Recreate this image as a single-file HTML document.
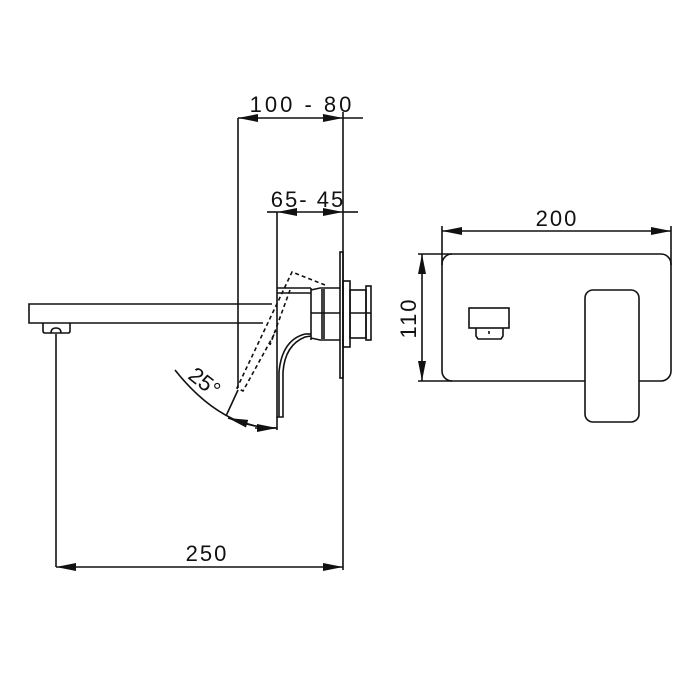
<!DOCTYPE html>
<html><head><meta charset="utf-8"><style>
html,body{margin:0;padding:0;background:#fff;width:700px;height:700px;overflow:hidden}
text{font-family:"Liberation Sans",sans-serif;fill:#111}
</style></head><body>
<svg width="700" height="700" viewBox="0 0 700 700" xmlns="http://www.w3.org/2000/svg">
<defs>
<marker id="a" viewBox="0 0 20 8" refX="20" refY="4" markerWidth="20" markerHeight="8" markerUnits="userSpaceOnUse" orient="auto-start-reverse"><path d="M0,0 L20,4 L0,8 Z" fill="#111"/></marker>
</defs>
<g stroke="#111" stroke-width="1.6" fill="none">
<line x1="238" y1="118" x2="238" y2="388"/>
<line x1="343" y1="112" x2="343" y2="570"/>
<line x1="238" y1="118" x2="343" y2="118" marker-start="url(#a)" marker-end="url(#a)"/>
<line x1="343" y1="118" x2="363" y2="118"/>
<line x1="277" y1="212" x2="277" y2="290"/>
<line x1="277" y1="212" x2="343" y2="212" marker-start="url(#a)" marker-end="url(#a)"/>
<line x1="267" y1="212" x2="277" y2="212"/>
<line x1="343" y1="212" x2="358" y2="212"/>
<path d="M272,304 L29,304 L29,323 L263,323"/>
<path d="M43,323 L43,331 Q43,333 45,333 L68,333 Q70,333 70,331 L70,323"/>
<path d="M51,333 Q51,328 56,328 Q61,328 61,333"/>
<line x1="56" y1="334" x2="56" y2="567"/>
<line x1="56" y1="567" x2="343" y2="567" marker-start="url(#a)" marker-end="url(#a)"/>
<line x1="277" y1="288" x2="311" y2="288"/>
<line x1="277" y1="293" x2="311" y2="293"/>
<line x1="311" y1="288" x2="311" y2="340"/>
<path d="M311,290 L320,288 L340,288"/>
<path d="M311,338 L320,340 L340,340"/>
<line x1="322" y1="289" x2="322" y2="339"/>
<line x1="324" y1="289" x2="324" y2="339"/>
<line x1="311" y1="313" x2="340" y2="313"/>
<rect x="340" y="252" width="3" height="126"/>
<rect x="343" y="281" width="7" height="66"/>
<rect x="350" y="290" width="16" height="48"/>
<rect x="366" y="286" width="5" height="54"/>
<line x1="350" y1="313" x2="371" y2="313"/>
<path d="M277,290 L277,417 L283,417 L283,372 Q285,345 305,337 L311,336"/>
<path d="M279,417 L279,372 Q282,340 305,334"/>
<line x1="305" y1="334" x2="311" y2="334"/>
<g stroke-dasharray="4,3">
<path d="M325,285 L292,272 L237,388 L243,391 L276,331"/>
<line x1="290" y1="290" x2="270" y2="345"/>
</g>
<path d="M175,370 Q205,408 240,422 Q258,428 277,428"/>
<line x1="238" y1="390" x2="226" y2="416"/>
<line x1="255" y1="426" x2="228" y2="418" marker-end="url(#a)"/>
<line x1="255" y1="428" x2="277" y2="428" marker-end="url(#a)"/>
<line x1="277" y1="417" x2="277" y2="430"/>
<line x1="442" y1="226" x2="442" y2="265"/>
<line x1="671" y1="226" x2="671" y2="265"/>
<line x1="442" y1="231" x2="671" y2="231" marker-start="url(#a)" marker-end="url(#a)"/>
<line x1="418" y1="254" x2="452" y2="254"/>
<line x1="418" y1="381" x2="452" y2="381"/>
<line x1="422" y1="254" x2="422" y2="381" marker-start="url(#a)" marker-end="url(#a)"/>
<rect x="442" y="254" width="229" height="127" rx="10"/>
<rect x="469" y="308" width="40" height="20"/>
<path d="M476,328 L476,336 L478,339 L501,339 L503,336 L503,328"/>
<line x1="489" y1="331" x2="489" y2="334"/>
<rect x="585" y="290" width="54" height="132" rx="8" fill="#fff"/>
</g>
<text x="302" y="112" font-size="22" text-anchor="middle" letter-spacing="3">100 - 80</text>
<text x="308" y="207" font-size="22" text-anchor="middle" letter-spacing="2">65- 45</text>
<text x="207" y="561" font-size="22" text-anchor="middle" letter-spacing="2">250</text>
<text x="557" y="226" font-size="22" text-anchor="middle" letter-spacing="2">200</text>
<text x="0" y="0" font-size="22" text-anchor="middle" letter-spacing="2" transform="translate(416,318) rotate(-90)">110</text>
<text x="0" y="0" font-size="22" text-anchor="middle" transform="translate(200,388) rotate(38)">25°</text>
</svg>
</body></html>
